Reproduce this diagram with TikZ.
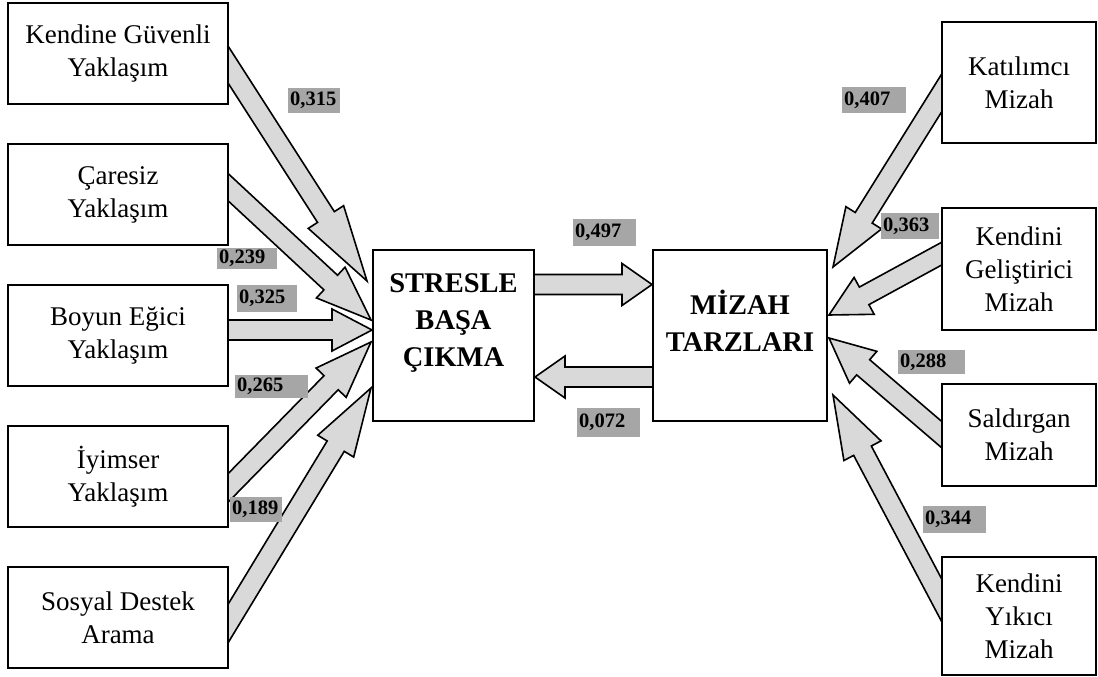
\documentclass[tikz,border=0pt]{standalone}
\usepackage{fontspec}
\setmainfont{Liberation Serif}
\usetikzlibrary{positioning,calc,backgrounds}
\definecolor{arrowgray}{HTML}{D9D9D9}
\definecolor{coefgray}{HTML}{A6A6A6}

% block arrow: #1 head length, #2 tail, #3 tip
\newcommand{\fatarrow}[3]{%
  \filldraw[fat] let \p1=($(#3)-(#2)$), \n1={atan2(\y1,\x1)}, \n2={veclen(\x1,\y1)-#1},
      \n3={\n1+90}, \n4={\n1-90} in
    ($(#2)+(\n1:-25pt)+(\n3:10pt)$) -- ($(#2)+(\n1:\n2)+(\n3:10pt)$)
    -- ($(#2)+(\n1:\n2)+(\n3:21pt)$) -- (#3)
    -- ($(#2)+(\n1:\n2)+(\n4:21pt)$) -- ($(#2)+(\n1:\n2)+(\n4:10pt)$)
    -- ($(#2)+(\n1:-25pt)+(\n4:10pt)$) -- cycle;}

\begin{document}
\begin{tikzpicture}[x=1pt, y=-1pt, node distance=38pt, font=\fontsize{27}{33}\selectfont]
  \tikzstyle{leftbox}=[draw, line width=2pt, fill=white, align=center, minimum width=220pt, minimum height=101pt]
  \tikzstyle{rightbox}=[draw, line width=2pt, fill=white, align=center, minimum width=154pt]
  \tikzstyle{mainbox}=[draw, line width=2pt, fill=white, minimum height=171pt]
  \tikzstyle{bigtext}=[align=center, font=\bfseries\fontsize{28.5}{37}\selectfont]
  \tikzstyle{coef}=[fill=coefgray, anchor=west, inner sep=2pt, minimum height=25pt, align=left, font=\bfseries\fontsize{20.5}{23}\selectfont]
  \tikzstyle{fat}=[fill=arrowgray, draw=black, line width=1.6pt, line join=miter]
  \useasboundingbox (0,0) rectangle (1098,677);

  % coping styles
  \node[leftbox] (kg) at (118,53.5) {Kendine Güvenli\\Yaklaşım};
  \node[leftbox] (cy) [below=of kg] {Çaresiz\\Yaklaşım};
  \node[leftbox] (be) [below=of cy] {Boyun Eğici\\Yaklaşım};
  \node[leftbox] (iy) [below=of be] {İyimser\\Yaklaşım};
  \node[leftbox] (sd) [below=of iy] {Sosyal Destek\\Arama};

  \node[mainbox, minimum width=161pt, label={[bigtext, yshift=13pt]center:{STRESLE\\BAŞA\\ÇIKMA}}] (sbc) at (453.5,335.5) {};
  \node[mainbox, minimum width=174pt, label={[bigtext, yshift=15pt]center:{MİZAH\\TARZLARI}}] (mt) at (740,335.5) {};

  % humor styles
  \node[rightbox, minimum height=121pt] (kat) at (1019,82.5) {Katılımcı\\Mizah};
  \node[rightbox, minimum height=122pt] (kgm) at (1019,269) {Kendini\\Geliştirici\\Mizah};
  \node[rightbox, minimum height=102pt] (sal) at (1019,435) {Saldırgan\\Mizah};
  \node[rightbox, minimum height=118pt] (kym) at (1019,616) {Kendini\\Yıkıcı\\Mizah};

  \coordinate (kgout) at ($(kg.east)+(0,12.5)$);
  \coordinate (cyout) at ($(cy.east)+(0,-6.5)$);
  \coordinate (beout) at ($(be.east)+(0,-5.5)$);
  \coordinate (iyout) at ($(iy.east)+(0,10.5)$);
  \coordinate (sdout) at ($(sd.east)+(0,4.5)$);
  \coordinate (kgin) at ($(sbc.west)+(-5,-54.5)$);
  \coordinate (cyin) at ($(sbc.west)+(-1,-15.5)$);
  \coordinate (bein) at ($(sbc.west)+(0,-5.5)$);
  \coordinate (iyin) at ($(sbc.west)+(-1,6.5)$);
  \coordinate (sdin) at ($(sbc.west)+(-1,52.5)$);
  \coordinate (sbcout) at ($(sbc.east)+(0,-51)$);
  \coordinate (mtin) at ($(mt.west)+(0,-51)$);
  \coordinate (mtout) at ($(mt.west)+(0,41.5)$);
  \coordinate (sbcin) at ($(sbc.east)+(0,41.5)$);
  \coordinate (katout) at ($(kat.west)+(0,11.5)$);
  \coordinate (kgmout) at ($(kgm.west)+(0,-15)$);
  \coordinate (salout) at ($(sal.west)+(0,-1)$);
  \coordinate (kymout) at ($(kym.west)+(0,-17)$);
  \coordinate (katin) at ($(mt.east)+(5,-68.5)$);
  \coordinate (kgmin) at ($(mt.east)+(1,-20.5)$);
  \coordinate (salin) at ($(mt.east)+(1,2.5)$);
  \coordinate (kymin) at ($(mt.east)+(5,59.5)$);

  \begin{pgfonlayer}{background}
    \fatarrow{76}{kgout}{kgin}
    \fatarrow{55}{cyout}{cyin}
    \fatarrow{40}{beout}{bein}
    \fatarrow{57}{iyout}{iyin}
    \fatarrow{68}{sdout}{sdin}
    \fatarrow{30}{sbcout}{mtin}
    \fatarrow{30}{mtout}{sbcin}
    \fatarrow{58}{katout}{katin}
    \fatarrow{40}{kgmout}{kgmin}
    \fatarrow{45}{salout}{salin}
    \fatarrow{63}{kymout}{kymin}
  \end{pgfonlayer}

  % path coefficients
  \node[coef, text width=48pt] (c1) at (288,100.5) {0,315};
  \node[coef, text width=56pt, minimum height=21pt] (c2) at (217,258) {0,239};
  \node[coef, text width=56pt, minimum height=27pt] (c3) at (237,298.5) {0,325};
  \node[coef, text width=69pt, minimum height=23pt] (c4) at (235,386.5) {0,265};
  \node[coef, text width=48pt] (c5) at (230,509.5) {0,189};
  \node[coef, text width=59pt, minimum height=27pt] (c6) at (573,232.5) {0,497};
  \node[coef, text width=59pt, minimum height=29pt] (c7) at (577,422.5) {0,072};
  \node[coef, text width=60pt, minimum height=26pt] (c8) at (842,100) {0,407};
  \node[coef, text width=54pt, minimum height=26pt] (c9) at (881,226) {0,363};
  \node[coef, text width=63pt, minimum height=24pt] (c10) at (898,362) {0,288};
  \node[coef, text width=59pt, minimum height=27pt] (c11) at (923,519.5) {0,344};
\end{tikzpicture}
\end{document}
